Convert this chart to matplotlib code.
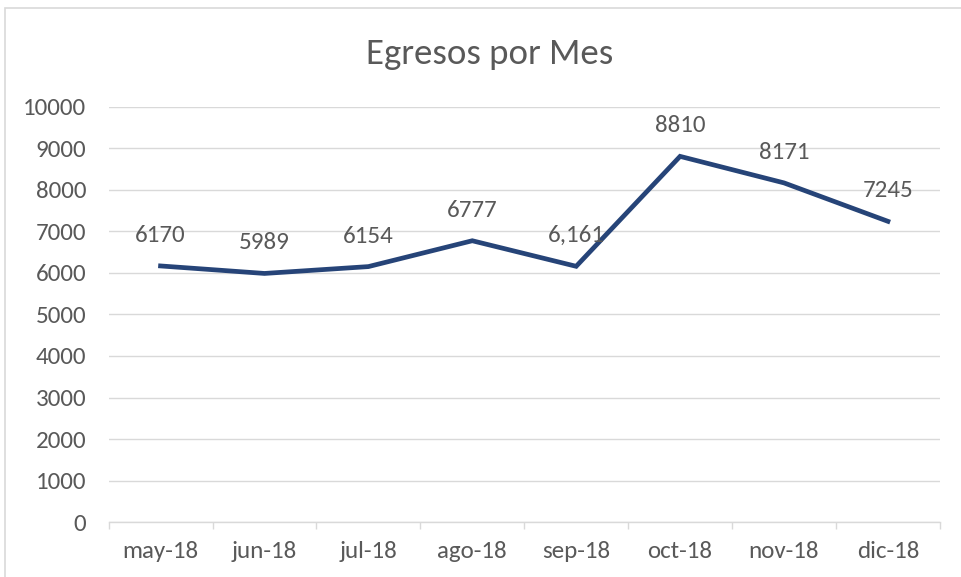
import matplotlib
matplotlib.use('Agg')
import matplotlib.pyplot as plt
from matplotlib.patches import Rectangle

# data
months = ['may-18', 'jun-18', 'jul-18', 'ago-18', 'sep-18', 'oct-18', 'nov-18', 'dic-18']
egresos = [6170, 5989, 6154, 6777, 6161, 8810, 8171, 7245]
point_labels = ['6170', '5989', '6154', '6777', '6,161', '8810', '8171', '7245']
y_ticks = list(range(0, 10001, 1000))

text_color = '#595959'
grid_color = '#D9D9D9'
line_color = '#264478'

plt.rcParams['font.family'] = ['Carlito', 'DejaVu Sans']

fig = plt.figure(figsize=(9.61, 5.77), dpi=100)
ax = fig.add_axes([0.113, 0.0953, 0.865, 0.7193])

x = list(range(len(months)))
ax.plot(x, egresos, color=line_color, linewidth=3.4, solid_joinstyle='miter', zorder=3)

# data labels above each point
for xi, yi, lab in zip(x, egresos, point_labels):
	ax.annotate(lab, (xi, yi), xytext=(0, 22), textcoords='offset points',
				ha='center', va='center', fontsize=18, color=text_color)

ax.set_xlim(-0.5, len(months) - 0.5)
ax.set_ylim(0, 10000)
ax.set_yticks(y_ticks)
ax.set_yticklabels([str(v) for v in y_ticks], fontsize=18, color=text_color)
ax.set_xticks(x)
ax.set_xticklabels(months, fontsize=18, color=text_color)
ax.tick_params(axis='x', which='major', length=0, pad=14)
ax.tick_params(axis='y', length=0, pad=16)
# category boundary tick marks
ax.set_xticks([i - 0.5 for i in range(len(months) + 1)], minor=True)
ax.tick_params(axis='x', which='minor', length=5, color=grid_color, width=1)

ax.grid(axis='y', color=grid_color, linewidth=1)
ax.set_axisbelow(True)
for side in ['top', 'right', 'left']:
	ax.spines[side].set_visible(False)
ax.spines['bottom'].set_color(grid_color)
ax.spines['bottom'].set_linewidth(1)

fig.text(0.510, 0.907, 'Egresos por Mes', ha='center', va='center', fontsize=26.5, color=text_color)

# chart border
fig.patches.append(Rectangle((5 / 961, -0.05), 1.1, 1 - 8 / 577 + 0.05, transform=fig.transFigure,
							 fill=False, edgecolor=grid_color, linewidth=1.2))

fig.savefig('out.png', dpi=100)
